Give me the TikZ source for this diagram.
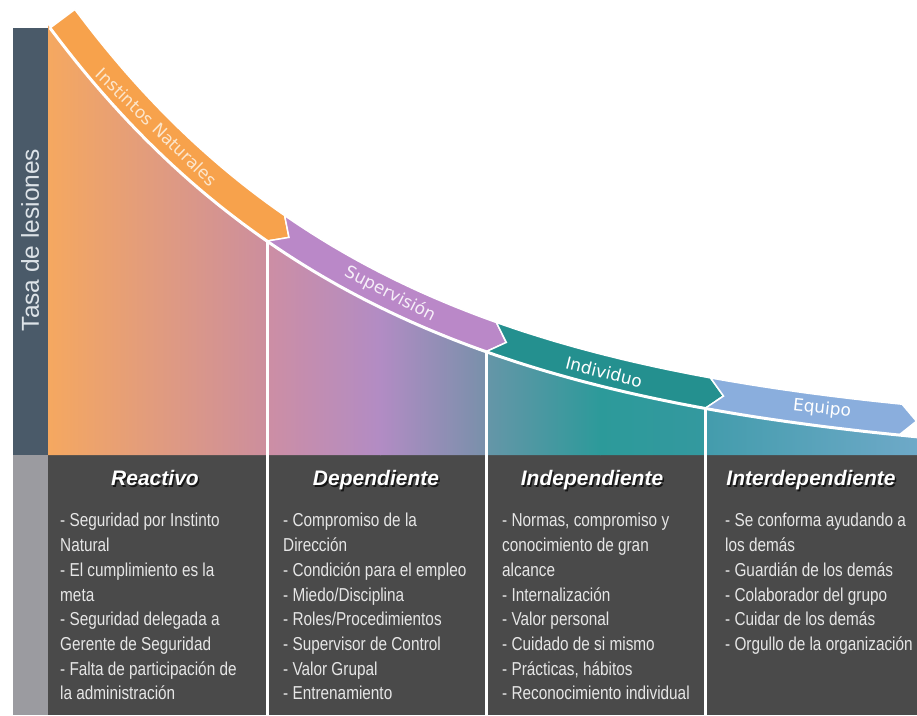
\documentclass[tikz,border=0pt]{standalone}
\usepackage{fontspec}
\setmainfont{Liberation Sans}
\newfontfamily\bodyfont[FakeStretch=0.82]{Liberation Sans}
\newfontfamily\ribfont{DejaVu Sans}
\definecolor{axisdark}{HTML}{4A5A69}
\definecolor{axisgray}{HTML}{9B9BA0}
\definecolor{panel}{HTML}{4A4A4A}
\definecolor{bodytxt}{HTML}{E6E6E6}
\definecolor{orangeR}{HTML}{F7A24C}
\definecolor{purpleR}{HTML}{BA88C8}
\definecolor{tealR}{HTML}{24908F}
\definecolor{blueR}{HTML}{8AAEDD}
\definecolor{g1a}{HTML}{F5A860}
\definecolor{g1b}{HTML}{CC8E9E}
\definecolor{g2a}{HTML}{CD8EA4}
\definecolor{g2m}{HTML}{B28CC4}
\definecolor{g2b}{HTML}{7890AA}
\definecolor{g3a}{HTML}{6696A8}
\definecolor{g3m}{HTML}{2C9A9A}
\definecolor{g3b}{HTML}{34999F}
\definecolor{g4a}{HTML}{439CAC}
\definecolor{g4b}{HTML}{6EA9C8}
\definecolor{ribtxtA}{HTML}{FCE6CC}
\definecolor{ribtxtB}{HTML}{F6EEF8}
\definecolor{tasatxt}{HTML}{DDE3E8}
\begin{document}
\begin{tikzpicture}[x=1pt,y=-1pt,
  declare function={Lf(\u)=468-440*exp(-0.00305*(\u-50)); Ld(\u)=1.342*exp(-0.00305*(\u-50)); Sn(\u)=sqrt(1+Ld(\u)*Ld(\u));},
  body/.style={anchor=north west, inner sep=0pt, align=left, text=bodytxt, font=\bodyfont\fontsize{18.7pt}{24.7pt}\selectfont},
  head/.style={anchor=base, inner sep=0pt, text=white, font=\bfseries\itshape\fontsize{21pt}{24pt}\selectfont},
  headshadow/.style={head, text=black, opacity=0.7},
  sepline/.style={draw=white, line width=3pt},
  ribbon/.style={draw=white, line width=1.5pt, line join=miter},
  riblabel/.style={inner sep=0pt, anchor=center, font=\ribfont\fontsize{17pt}{20pt}\selectfont}
]
\useasboundingbox (0,0) rectangle (917,715);
\fill[white] (0,0) rectangle (917,715);
% left axis bar
\fill[axisdark] (13,28) rectangle (48,455);
\fill[axisgray] (13,455) rectangle (48,715);
% dark panel
\fill[panel] (48,455) rectangle (917,715);
% gradient area under the curve
\begin{scope}
\clip plot[domain=48:917,samples=100] ({\x},{Lf(\x)}) -- (917,455) -- (48,455) -- cycle;
\shade[left color=g1a, right color=g1b] (48,0) rectangle (268,456);
\shade[left color=g2a, right color=g2m] (267,0) rectangle (381,456);
\shade[left color=g2m, right color=g2b] (380,0) rectangle (487,456);
\shade[left color=g3a, right color=g3m] (486,0) rectangle (601,456);
\shade[left color=g3m, right color=g3b] (600,0) rectangle (706,456);
\shade[left color=g4a, right color=g4b] (705,0) rectangle (917,456);
\end{scope}
% chevron points
\coordinate (tipA) at ({267+(15.5*Ld(267)+16)/Sn(267)},{Lf(267)+(16*Ld(267)-15.5)/Sn(267)});
\coordinate (tipB) at ({486+(15.5*Ld(486)+16)/Sn(486)},{Lf(486)+(16*Ld(486)-15.5)/Sn(486)});
\coordinate (tipC) at ({705+(15.5*Ld(705)+16)/Sn(705)},{Lf(705)+(16*Ld(705)-15.5)/Sn(705)});
\coordinate (tipD) at ({899+(15.5*Ld(899)+16)/Sn(899)},{Lf(899)+(16*Ld(899)-15.5)/Sn(899)});
% ribbon segments
\filldraw[fill=orangeR, ribbon] plot[domain=50:267,samples=60] ({\x},{Lf(\x)}) -- (tipA)
  -- plot[domain=267:50,samples=60] ({\x+31*Ld(\x)/Sn(\x)},{Lf(\x)-31/Sn(\x)}) -- cycle;
\filldraw[fill=purpleR, ribbon] plot[domain=267:486,samples=50] ({\x},{Lf(\x)}) -- (tipB)
  -- plot[domain=486:267,samples=50] ({\x+31*Ld(\x)/Sn(\x)},{Lf(\x)-31/Sn(\x)}) -- (tipA) -- cycle;
\filldraw[fill=tealR, ribbon] plot[domain=486:705,samples=50] ({\x},{Lf(\x)}) -- (tipC)
  -- plot[domain=705:486,samples=50] ({\x+31*Ld(\x)/Sn(\x)},{Lf(\x)-31/Sn(\x)}) -- (tipB) -- cycle;
\filldraw[fill=blueR, ribbon] plot[domain=705:899,samples=50] ({\x},{Lf(\x)}) -- (tipD)
  -- plot[domain=899:705,samples=50] ({\x+31*Ld(\x)/Sn(\x)},{Lf(\x)-31/Sn(\x)}) -- (tipC) -- cycle;
% white line under the ribbon
\draw[white, line width=3pt] plot[domain=50:917,samples=100] ({\x},{Lf(\x)});
% column separators
\coordinate (sAt) at (267,{Lf(267)}); \coordinate (sAb) at (267,715);
\coordinate (sBt) at (486,{Lf(486)}); \coordinate (sBb) at (486,715);
\coordinate (sCt) at (705,{Lf(705)}); \coordinate (sCb) at (705,715);
\draw[sepline] (sAt) -- (sAb);
\draw[sepline] (sBt) -- (sBb);
\draw[sepline] (sCt) -- (sCb);
% ribbon labels
\node[riblabel, text=ribtxtA, rotate=-44] (lInst) at (157,127) {Instintos Naturales};
\node[riblabel, text=ribtxtB, rotate=-27] (lSup) at (390,294) {Supervisión};
\node[riblabel, text=white, rotate=-14] (lInd) at (604,372) {Individuo};
\node[riblabel, text=white, rotate=-6] (lEq) at (822,409) {Equipo};
% axis label
\node[rotate=90, inner sep=0pt, text=tasatxt, font=\fontsize{24.5pt}{27pt}\selectfont] (tasa) at (30,240) {Tasa de lesiones};
% headings
\node[headshadow] (hRs) at (156.5,487) {Reactivo};
\node[head] (hR) at (155,485.5) {Reactivo};
\node[headshadow] (hDs) at (377.5,487) {Dependiente};
\node[head] (hD) at (376,485.5) {Dependiente};
\node[headshadow] (hIs) at (593.5,487) {Independiente};
\node[head] (hI) at (592,485.5) {Independiente};
\node[headshadow] (hXs) at (812.5,487) {Interdependiente};
\node[head] (hX) at (811,485.5) {Interdependiente};
% body texts
\node[body] (b1) at (60,512.7) {\rule{0pt}{14pt}- Seguridad por Instinto\\Natural\\- El cumplimiento es la\\meta\\- Seguridad delegada a\\Gerente de Seguridad\\- Falta de participación de\\la administración};
\node[body] (b2) at (283,512.7) {\rule{0pt}{14pt}- Compromiso de la\\Dirección\\- Condición para el empleo\\- Miedo/Disciplina\\- Roles/Procedimientos\\- Supervisor de Control\\- Valor Grupal\\- Entrenamiento};
\node[body] (b3) at (502,512.7) {\rule{0pt}{14pt}- Normas, compromiso y\\conocimiento de gran\\alcance\\- Internalización\\- Valor personal\\- Cuidado de si mismo\\- Prácticas, hábitos\\- Reconocimiento individual};
\node[body] (b4) at (725,512.7) {\rule{0pt}{14pt}- Se conforma ayudando a\\los demás\\- Guardián de los demás\\- Colaborador del grupo\\- Cuidar de los demás\\- Orgullo de la organización};
\end{tikzpicture}
\end{document}
